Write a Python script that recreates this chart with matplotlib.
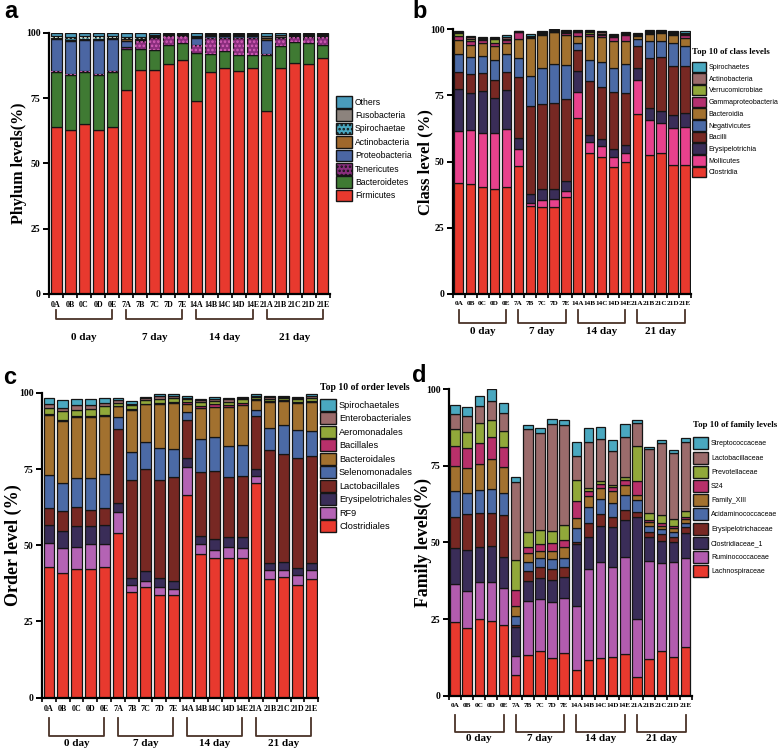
import numpy as np
import matplotlib
matplotlib.use('Agg')
import matplotlib.pyplot as plt
from matplotlib.patches import Patch
from matplotlib.transforms import blended_transform_factory
from matplotlib import font_manager

plt.rcParams['hatch.linewidth'] = 1.2

samples = ['0A', '0B', '0C', '0D', '0E', '7A', '7B', '7C', '7D', '7E',
           '14A', '14B', '14C', '14D', '14E', '21A', '21B', '21C', '21D', '21E']
groups = ['0 day', '7 day', '14 day', '21 day']

# ---------------- Panel a: phylum ----------------
phylum_names = ['Firmicutes', 'Bacteroidetes', 'Tenericutes', 'Proteobacteria',
                'Actinobacteria', 'Spirochaetae', 'Fusobacteria', 'Others']
firmicutes = [64, 63, 65, 63, 64, 78, 86, 86, 88, 89.5, 74, 85, 86.5, 85.5, 86.5, 70, 86.5, 88.5, 88, 90.5]
bacteroidetes = [21, 21, 20, 21, 21, 16, 8, 7.5, 7.5, 6.5, 18.5, 7, 6.5, 6, 5, 21.5, 8.5, 8, 8, 5]
tenericutes = [0.3, 0.3, 0.3, 0.3, 0.3, 0.5, 3, 4.5, 3.5, 3, 3, 6, 5, 6.5, 6.5, 0.5, 3, 2, 2.5, 3]
proteobacteria = [12.5, 12.8, 12, 13, 12.5, 2.5, 0.5, 0.5, 0.2, 0.2, 2.5, 0.8, 0.8, 0.8, 0.8, 5.5, 0.3, 0.3, 0.3, 0.3]
actinobacteria = [0.3, 0.3, 0.3, 0.3, 0.3, 0.8, 0.3, 0.2, 0.1, 0.1, 0.3, 0.2, 0.2, 0.2, 0.2, 0.5, 0.2, 0.2, 0.2, 0.2]
spirochaetae = [0.4, 0.8, 0.8, 0.8, 0.5, 0.2, 0.2, 0.2, 0.1, 0.1, 0.1, 0.1, 0.1, 0.1, 0.1, 0.2, 0.1, 0.1, 0.1, 0.1]
fusobacteria = [0.2, 0.3, 0.3, 0.3, 0.3, 0.5, 0.5, 0.3, 0.3, 0.3, 0.6, 0.4, 0.4, 0.4, 0.4, 0.5, 0.8, 0.5, 0.5, 0.5]
others = [1.3, 1.5, 1.3, 1.3, 1.1, 1.5, 1.5, 0.8, 0.3, 0.3, 1.0, 0.5, 0.5, 0.5, 0.5, 1.3, 0.6, 0.4, 0.4, 0.4]
phylum_colors = ['#e8392e', '#3f7a33', '#8a2e7e', '#4b66a3', '#a0682c', '#4aa9c2', '#8c837d', '#4a9cbc']
phylum_hatch = [None, None, ('....', '#d45fb8'), None, None, ('....', '#e8f4e0'), None, None]

# ---------------- Panel b: class ----------------
class_names = ['Clostridia', 'Mollicutes', 'Erysipelotrichia', 'Bacilli', 'Negativicutes',
               'Bacteroidia', 'Gammaproteobacteria', 'Verrucomicrobiae', 'Actinobacteria', 'Spirochaetes']
clostridia = [42, 41.5, 40.5, 39.7, 40.3, 48.4, 33.2, 33, 33, 36.8, 66.3, 53.4, 51.6, 48.1, 50, 67.9, 52.5, 53.1, 48.7, 48.6]
mollicutes = [19.5, 20.5, 20.5, 21.3, 22, 6.3, 1, 2.5, 2.7, 2.2, 10.1, 3.9, 4.3, 3.8, 3.4, 13, 13.2, 11.6, 14.1, 14.6]
erysipelotrichia = [15.8, 14, 15.5, 13, 14.7, 4.1, 3.6, 4, 3.8, 3.7, 7.9, 2.7, 2.7, 2.8, 2.9, 4.6, 4.7, 4.6, 4.8, 5.1]
bacilli = [6.7, 7, 7, 7, 7, 23.2, 33.2, 32.3, 32.5, 30.9, 7.7, 20.5, 19.5, 21.5, 19.5, 8.2, 18.6, 20.1, 18.5, 17.8]
negativicutes = [6.7, 6.5, 6.5, 7.5, 6.5, 7.3, 11.4, 13.5, 14.8, 12.9, 3, 7.9, 9.4, 9.1, 11.1, 2.6, 6.7, 6.3, 8.6, 7.6]
bacteroidia = [5.3, 4.5, 5, 5, 4.5, 7, 14.4, 12.5, 12, 11.5, 2.6, 9, 9.7, 10.4, 8.8, 1, 2.5, 3, 3.2, 3.1]
gammaproteobacteria = [1.6, 1.5, 0.8, 1.5, 1, 2.6, 0.2, 0.5, 0.3, 0.5, 1.2, 1, 0.8, 1.5, 2.2, 0.5, 0.4, 0.3, 0.5, 1]
verrucomicrobiae = [1.1, 1, 0.7, 1.5, 0.5, 0.1, 0.2, 0.3, 0.3, 0.4, 0.3, 0.4, 0.4, 0.3, 0.4, 0.3, 0.3, 0.2, 0.3, 0.5]
actinobacteria_c = [0.4, 0.5, 0.3, 0.3, 0.5, 0.2, 0.3, 0.4, 0.3, 0.4, 0.3, 0.4, 0.4, 0.3, 0.3, 0.3, 0.3, 0.2, 0.3, 0.4]
spirochaetes = [0.4, 0.6, 0.4, 0.4, 0.8, 0.3, 0.8, 0.5, 0.3, 0.4, 0.4, 0.5, 0.4, 0.3, 0.4, 0.3, 0.4, 0.3, 0.5, 0.7]
class_colors = ['#e8392e', '#e8418c', '#3a2d58', '#772823', '#4b6aa6', '#a2712f',
                '#b3306f', '#91a83a', '#9b6b6b', '#4aa8c0']

# ---------------- Panel c: order ----------------
order_names = ['Clostridiales', 'RF9', 'Erysipelotrichales', 'Lactobacillales', 'Selenomonadales',
               'Bacteroidales', 'Bacillales', 'Aeromonadales', 'Enterobacteriales', 'Spirochaetales']
clostridiales = [43, 40.8, 42.3, 42.2, 43, 53.9, 34.8, 36.2, 33.7, 33.7, 66.4, 47, 45.7, 45.9, 45.7, 70.3, 38.8, 39.5, 36.9, 38.8]
rf9 = [7.8, 8.2, 7.2, 8.1, 7.4, 7.1, 2.1, 2.2, 2.5, 2, 9.3, 3.3, 2.9, 3.4, 3.5, 2.4, 3.1, 2.4, 3.3, 3.1]
erysipelotrichales = [5.8, 5.8, 6.8, 6.1, 6.2, 2.7, 2.2, 3, 2.9, 2.7, 3, 2.7, 3.4, 3.5, 3.4, 2.3, 2.4, 2.5, 2.4, 2.4]
lactobacillales = [5.7, 6.4, 6.3, 5.3, 5.7, 24.3, 32.3, 33.7, 32.3, 34.1, 12.3, 21.1, 22.3, 19.7, 20.1, 17.3, 36.9, 35.5, 35.9, 34.9]
selenomonadales = [10.7, 9.1, 9.6, 10.2, 11, 3.9, 9.3, 8.8, 10.6, 9, 2.8, 10.9, 11.3, 10, 10.1, 2.2, 7.3, 9.5, 9.3, 8.2]
bacteroidales = [19.8, 20.4, 20, 20.2, 19, 3.6, 13.8, 12.3, 14.2, 15.2, 2.4, 9.9, 9.8, 12.7, 13.2, 3.1, 8.5, 7.9, 9, 9.6]
bacillales = [0.3, 0.3, 0.3, 0.3, 0.3, 0.3, 0.2, 0.2, 0.3, 0.2, 0.7, 0.8, 0.8, 0.8, 0.7, 0.2, 0.2, 0.2, 0.2, 0.3]
aeromonadales = [1.8, 2.9, 2, 2.4, 3, 1, 1.2, 1.2, 1.3, 1.3, 1, 1.2, 1.2, 1, 1.1, 0.8, 0.8, 0.8, 0.8, 1]
enterobacteriales = [1.5, 1.2, 1.5, 1.1, 1, 0.8, 0.5, 0.6, 1, 0.7, 0.5, 0.6, 0.7, 0.8, 0.5, 0.5, 0.5, 0.4, 0.5, 0.6]
spirochaetales = [1.9, 2.5, 2, 2.2, 1.7, 0.6, 0.8, 0.5, 0.7, 0.6, 0.5, 0.6, 0.6, 0.6, 0.4, 0.4, 0.5, 0.3, 0.4, 0.6]
order_colors = ['#e8392e', '#b463b4', '#3a2d58', '#772823', '#4b6aa6', '#a2712f',
                '#b8306a', '#91a83a', '#9b6b6b', '#4aa8c0']

# ---------------- Panel d: family ----------------
family_names = ['Lachnospiraceae', 'Ruminococcaceae', 'Clostridiaceae_1', 'Erysipelotrichaceae',
                'Acidaminococcaceae', 'Family_XIII', 'S24', 'Prevotellaceae', 'Lactobacillaceae',
                'Streptococcaceae']
lachnospiraceae = [23.9, 22.2, 25, 24.4, 23.1, 6.7, 13.3, 14.7, 12.2, 13.8, 8.4, 11.6, 12.2, 12.7, 13.5, 6, 12, 14.7, 12.5, 15.8]
ruminococcaceae = [12.4, 12, 12, 12.6, 12.2, 6.4, 17.6, 16.7, 18.5, 18.2, 21, 29.7, 31.3, 29.4, 31.9, 18.9, 32.1, 28.5, 31.2, 29.2]
clostridiaceae_1 = [11.8, 13.4, 11.6, 12, 10.1, 9.2, 6.5, 6.9, 7.1, 6.6, 20.1, 10.4, 11.9, 13.1, 11.9, 33.5, 7.6, 7.4, 6.6, 8]
erysipelotrichaceae = [10.3, 11.6, 11.1, 10.5, 13.4, 0.8, 3.4, 3.8, 3.5, 3.5, 0.8, 4.6, 3.8, 3, 3.3, 1.7, 1.8, 2.1, 1.6, 2]
acidaminococcaceae = [8.5, 7.1, 7.4, 8, 7.3, 3, 2.9, 2.7, 3.3, 2.9, 4.3, 5.4, 4.9, 4.8, 4.9, 3.8, 2, 1.6, 1.6, 1.5]
family_xiii = [7.9, 7.9, 8.4, 9.6, 8.4, 3.3, 2.8, 2.4, 2.6, 3.4, 3.3, 3.5, 3.6, 3.9, 3.3, 1.6, 1.1, 1.2, 1.3, 1.1]
s24 = [6.7, 6.5, 6.9, 7.2, 6.8, 5.2, 2.1, 2.2, 2.5, 2.4, 5.6, 1.6, 1.3, 1.1, 1.6, 4.4, 0.7, 1, 0.7, 0.8]
prevotellaceae = [5.4, 5.3, 6.5, 5.5, 5.1, 9.7, 4.9, 4.7, 4.2, 4.9, 6.9, 0.9, 0.9, 0.8, 0.8, 11.6, 2.4, 2.3, 2.2, 1.9]
lactobacillaceae = [4.9, 5.4, 5.7, 6.2, 6, 25.3, 33.4, 31.5, 34.7, 32.7, 7.8, 15.2, 13.9, 10.9, 13.3, 7.4, 20.8, 23.6, 21.4, 22.6]
streptococcaceae = [2.9, 2.7, 3.3, 4, 3, 1.9, 1.5, 1.6, 1.6, 1.6, 4.7, 4.6, 4, 3.8, 4.1, 1.1, 0.8, 1.1, 1.1, 1.1]
family_colors = ['#e8392e', '#b25cae', '#3a2d58', '#772823', '#4b6aa6', '#a2712f',
                 '#b8306a', '#91a83a', '#9b6b6b', '#4aa8c0']

SERIF = 'Liberation Serif'
_names = {f.name for f in font_manager.fontManager.ttflist}
if 'Liberation Sans Narrow' in _names:
    LEG_FAMILY, LEG_SCALE = 'Liberation Sans Narrow', 1.2
else:
    LEG_FAMILY, LEG_SCALE = 'Liberation Sans', 1.0

W, H = 778, 753
fig = plt.figure(figsize=(W / 100, H / 100), dpi=100)


def draw_panel(rect, series, names, colors, ylabel, ylabel_size, label_x, xtick_fs,
               br_top, br_bot, grp_y, hatches=None):
    ax = fig.add_axes(rect)
    x = np.arange(len(samples))
    bottom = np.zeros(len(samples))
    for i, (vals, col) in enumerate(zip(series, colors)):
        vals = np.asarray(vals, dtype=float)
        ax.bar(x, vals, bottom=bottom, width=0.78, color=col,
               edgecolor='#151515', linewidth=0.9, zorder=2)
        if hatches is not None and hatches[i] is not None:
            h, hc = hatches[i]
            ax.bar(x, vals, bottom=bottom, width=0.78, facecolor='none',
                   edgecolor=hc, hatch=h, linewidth=0, zorder=3)
        bottom += vals
    ax.set_xlim(-0.5, len(samples) - 0.5)
    ax.set_ylim(0, 100)
    for s in ['top', 'right']:
        ax.spines[s].set_visible(False)
    for s in ['left', 'bottom']:
        ax.spines[s].set_linewidth(1.6)
    ax.set_yticks([0, 25, 50, 75, 100])
    ax.set_yticklabels(['0', '25', '50', '75', '100'], fontfamily=SERIF,
                       fontweight='bold', fontsize=7)
    ax.set_xticks(x)
    ax.set_xticklabels(samples, fontfamily=SERIF, fontweight='bold', fontsize=xtick_fs)
    ax.tick_params(axis='x', length=0, pad=5)
    ax.set_xticks(np.arange(-0.5, len(samples)), minor=True)
    ax.tick_params(axis='x', which='minor', length=3, width=1.2, direction='out')
    ax.tick_params(axis='y', length=4, width=1.4, pad=2)
    ax.set_ylabel(ylabel, fontfamily=SERIF, fontweight='bold', fontsize=ylabel_size)
    ax.yaxis.set_label_coords(label_x, 0.5)
    tr = blended_transform_factory(ax.transData, ax.transAxes)
    for g in range(4):
        x0, x1 = g * 5, g * 5 + 4
        ax.plot([x0, x0, x1, x1], [br_top, br_bot, br_bot, br_top], color='#4a3328',
                lw=1.3, transform=tr, clip_on=False)
        ax.text((x0 + x1) / 2, grp_y, groups[g], transform=tr, ha='center', va='center',
                fontfamily=SERIF, fontweight='bold', fontsize=8)
    return ax


def add_legend(ax, names, colors, x_px, top_px, fs, box_w, box_h, row_px, text_gap,
               title=None, title_fs=7, title_gap=4, hatches=None):
    fs = fs * LEG_SCALE
    fs_px = fs * 100 / 72
    # matplotlib's handle box height is fs*(0.65*hh + 0.245)
    hh = (box_h / fs_px - 0.245) / 0.65
    handles = []
    for i, (n, c) in enumerate(zip(names, colors)):
        kw = {}
        if hatches is not None and hatches[i] is not None:
            kw['hatch'] = hatches[i][0]
        handles.append(Patch(facecolor=c, edgecolor='#151515', linewidth=1.0, label=n, **kw))
    handles = handles[::-1]
    leg = ax.legend(handles=handles, loc='upper left',
                    bbox_to_anchor=(x_px / W, 1 - top_px / H),
                    bbox_transform=fig.transFigure, frameon=False,
                    handlelength=box_w / fs_px, handleheight=hh,
                    labelspacing=(row_px - box_h) / fs_px, handletextpad=text_gap / fs_px,
                    borderpad=0, borderaxespad=0, title=title, alignment='left',
                    prop={'family': LEG_FAMILY, 'size': fs},
                    title_fontproperties={'family': SERIF, 'weight': 'bold', 'size': title_fs})
    if title is not None:
        leg._legend_box.sep = title_gap
    return leg


# Panel a
ax_a = draw_panel([0.063, 0.6096, 0.361, 0.3466],
                  [firmicutes, bacteroidetes, tenericutes, proteobacteria, actinobacteria,
                   spirochaetae, fusobacteria, others],
                  phylum_names, phylum_colors, 'Phylum levels(%)', 11.5, -0.078, 5.8,
                  -0.06, -0.095, -0.165, hatches=phylum_hatch)
add_legend(ax_a, phylum_names, phylum_colors, 336, 96, 6.2, 16, 11.5, 13.4, 3,
           hatches=phylum_hatch)

# Panel b
ax_b = draw_panel([0.582, 0.6096, 0.306, 0.3515],
                  [clostridia, mollicutes, erysipelotrichia, bacilli, negativicutes,
                   bacteroidia, gammaproteobacteria, verrucomicrobiae, actinobacteria_c, spirochaetes],
                  class_names, class_colors, 'Class level (%)', 12, -0.08, 5.2,
                  -0.06, -0.11, -0.14)
add_legend(ax_b, class_names, class_colors, 692, 48, 5.05, 14, 10.5, 11.7, 2.5,
           title='Top 10 of class levels', title_fs=6.3, title_gap=4)

# Panel c
ax_c = draw_panel([0.054, 0.0734, 0.355, 0.405],
                  [clostridiales, rf9, erysipelotrichales, lactobacillales, selenomonadales,
                   bacteroidales, bacillales, aeromonadales, enterobacteriales, spirochaetales],
                  order_names, order_colors, 'Order level (%)', 13, -0.072, 5.8,
                  -0.067, -0.124, -0.15)
add_legend(ax_c, order_names, order_colors, 320, 383, 6.6, 16, 12, 13.5, 3,
           title='Top 10 of order levels', title_fs=7, title_gap=5)

# Panel d
ax_d = draw_panel([0.577, 0.0761, 0.312, 0.407],
                  [lachnospiraceae, ruminococcaceae, clostridiaceae_1, erysipelotrichaceae,
                   acidaminococcaceae, family_xiii, s24, prevotellaceae, lactobacillaceae,
                   streptococcaceae],
                  family_names, family_colors, 'Family levels(%)', 12.8, -0.07, 5.2,
                  -0.063, -0.118, -0.14)
add_legend(ax_d, family_names, family_colors, 693, 421, 5.0, 15, 12, 14.2, 3,
           title='Top 10 of family levels', title_fs=6.3, title_gap=6)

# Panel letters
for lbl, (px, py) in zip(['a', 'b', 'c', 'd'], [(4, 12), (412, 12), (3, 378), (412, 375)]):
    fig.text(px / W, 1 - py / H, lbl, fontsize=17, fontweight='bold',
             fontfamily='Liberation Sans', va='center', ha='left')

fig.savefig('out.png', dpi=100)
